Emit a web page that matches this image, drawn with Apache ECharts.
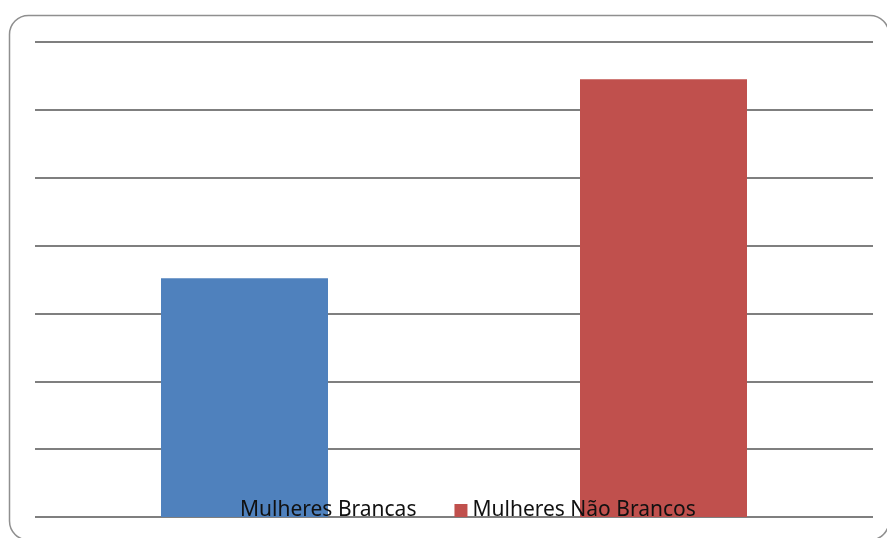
<!DOCTYPE html>
<html>
<head>
<meta charset="utf-8">
<script src="https://cdn.jsdelivr.net/npm/echarts@6/dist/echarts.min.js"></script>
<style>
  html, body { margin: 0; padding: 0; background: #fff; }
  #chart { width: 887px; height: 538px; }
</style>
</head>
<body>
<div id="chart"></div>
<script>
// Two groups of women, one bar each
const categories = ['Mulheres Brancas', 'Mulheres Não Brancos'];
const values = [3.52, 6.45];
const colors = ['#4F81BD', '#C0504D'];
const yMin = 0;
const yMax = 7;
const yStep = 1;

const chart = echarts.init(document.getElementById('chart'), null, { renderer: 'canvas' });

// Each series holds one value in its own category slot, so the legend lists both groups
const series = categories.map((name, i) => ({
  name: name,
  type: 'bar',
  barWidth: 167,
  barGap: '-100%',
  itemStyle: { color: colors[i] },
  data: categories.map((_, j) => (j === i ? values[i] : '-')),
  z: 2
}));

chart.setOption({
  animation: false,
  backgroundColor: '#ffffff',
  graphic: [{
    // rounded frame; its right and bottom edges run just past the canvas
    type: 'rect',
    shape: { x: 9.5, y: 15.5, width: 879.5, height: 524.5, r: 19 },
    style: { fill: 'none', stroke: '#8f8f8f', lineWidth: 1.5 },
    z: -1
  }],
  grid: { left: 35, right: 14, top: 42, bottom: 21, containLabel: false },
  legend: {
    data: categories,
    left: 217,
    top: 495,
    itemWidth: 13,
    itemHeight: 13,
    itemGap: 38,
    icon: 'rect',
    textStyle: { fontFamily: 'Noto Sans', fontSize: 21, color: '#111111' },
    z: 10
  },
  xAxis: {
    type: 'category',
    data: categories,
    axisLine: { show: false },
    axisTick: { show: false },
    axisLabel: { show: false },
    splitLine: { show: false }
  },
  yAxis: {
    type: 'value',
    min: yMin,
    max: yMax,
    interval: yStep,
    axisLine: { show: false },
    axisTick: { show: false },
    axisLabel: { show: false },
    splitLine: { show: true, lineStyle: { color: '#7f7f7f', width: 2 } }
  },
  series: series
});
</script>
</body>
</html>
